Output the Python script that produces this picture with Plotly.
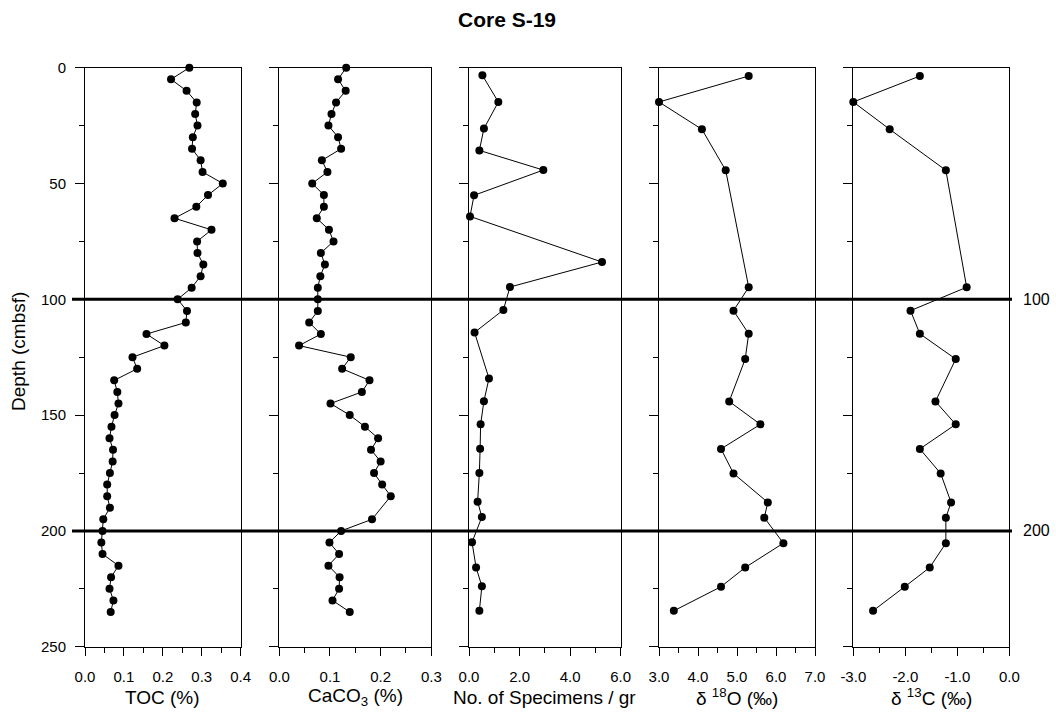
import plotly.graph_objects as go

# ---------------- data ----------------
toc_depth = [0, 5, 10, 15, 20, 25, 30, 35, 40, 45, 50, 55, 60, 65, 70, 75, 80, 85, 90, 95,
             100, 105, 110, 115, 120, 125, 130, 135, 140, 145, 150, 155, 160, 165, 170, 175,
             180, 185, 190, 195, 200, 205, 210, 215, 220, 225, 230, 235]
toc_val = [0.268, 0.221, 0.261, 0.287, 0.283, 0.289, 0.277, 0.275, 0.297, 0.302, 0.354, 0.316,
           0.286, 0.230, 0.325, 0.288, 0.289, 0.304, 0.297, 0.274, 0.238, 0.262, 0.259, 0.158,
           0.204, 0.122, 0.134, 0.075, 0.083, 0.086, 0.076, 0.068, 0.063, 0.072, 0.071, 0.064,
           0.057, 0.057, 0.064, 0.047, 0.045, 0.042, 0.045, 0.086, 0.067, 0.063, 0.073, 0.066]

caco3_depth = [0, 5, 10, 15, 20, 25, 30, 35, 40, 45, 50, 55, 60, 65, 70, 75, 80, 85, 90, 95,
               100, 105, 110, 115, 120, 125, 130, 135, 140, 145, 150, 155, 160, 165, 170, 175,
               180, 185, 195, 200, 205, 210, 215, 220, 225, 230, 235]
caco3_val = [0.132, 0.116, 0.131, 0.112, 0.103, 0.097, 0.116, 0.122, 0.084, 0.095, 0.065, 0.088,
             0.088, 0.074, 0.098, 0.107, 0.082, 0.090, 0.081, 0.076, 0.076, 0.076, 0.059, 0.082,
             0.039, 0.141, 0.124, 0.178, 0.163, 0.101, 0.139, 0.169, 0.195, 0.181, 0.200, 0.187,
             0.203, 0.220, 0.183, 0.122, 0.099, 0.118, 0.097, 0.119, 0.118, 0.105, 0.139]

spec_depth = [3.3, 14.8, 26.3, 35.7, 44.2, 55.1, 64.2, 83.9, 94.7, 104.6, 114.3, 134.2, 144,
              154, 164.5, 175, 187.4, 194, 204.9, 215.8, 223.9, 234.5]
spec_val = [0.53, 1.16, 0.59, 0.41, 2.94, 0.20, 0.04, 5.26, 1.62, 1.36, 0.22, 0.79, 0.59, 0.46,
            0.44, 0.41, 0.34, 0.51, 0.12, 0.28, 0.51, 0.41]

iso_depth = [3.6, 14.8, 26.6, 44.3, 94.8, 104.9, 114.9, 125.8, 144.1, 154, 164.6, 175.2, 187.7,
             194.3, 205.3, 215.8, 224.1, 234.5]
d18o_val = [5.30, 3.00, 4.10, 4.71, 5.30, 4.91, 5.30, 5.21, 4.80, 5.60, 4.59, 4.91, 5.79, 5.70,
            6.19, 5.21, 4.59, 3.38]
d13c_val = [-1.72, -3.00, -2.30, -1.22, -0.82, -1.90, -1.72, -1.03, -1.42, -1.03, -1.72, -1.32,
            -1.12, -1.22, -1.22, -1.53, -2.01, -2.62]

x_titles = ["TOC (%)", "CaCO<sub>3</sub> (%)", "No. of Specimens / gr",
            "δ <sup>18</sup>O (‰)", "δ <sup>13</sup>C (‰)"]
x_tickvals = [[0.0, 0.1, 0.2, 0.3, 0.4], [0.0, 0.1, 0.2, 0.3], [0, 2, 4, 6],
              [3, 4, 5, 6, 7], [-3, -2, -1, 0]]
x_ticktext = [["0.0", "0.1", "0.2", "0.3", "0.4"], ["0.0", "0.1", "0.2", "0.3"],
              ["0.0", "2.0", "4.0", "6.0"], ["3.0", "4.0", "5.0", "6.0", "7.0"],
              ["-3.0", "-2.0", "-1.0", "0.0"]]
x_ranges = [[0, 0.4], [0, 0.3], [0, 6], [3, 7], [-3, 0]]
x_minor = [0.05, 0.05, 1, 0.5, 0.5]
boundary_depths = [100, 200]
title_text = "Core S-19"
y_title = "Depth (cmbsf)"

# ---------------- layout geometry (pixels) ----------------
W, H = 1056, 712
panel_px = [(85, 240.7), (279.3, 431.3), (469, 620.7), (659, 815), (853.3, 1009.3)]
y_top_px, y_bot_px = 67.7, 646.7
ydom = [1 - y_bot_px / H, 1 - y_top_px / H]

FONT = "Arial, Liberation Sans, sans-serif"
fig = go.Figure()

series = [(toc_val, toc_depth), (caco3_val, caco3_depth), (spec_val, spec_depth),
          (d18o_val, iso_depth), (d13c_val, iso_depth)]

for i, (xv, yv) in enumerate(series):
    n = "" if i == 0 else str(i + 1)
    fig.add_trace(go.Scatter(
        x=xv, y=yv, mode="lines+markers", xaxis="x" + n, yaxis="y" + n,
        line=dict(color="black", width=1),
        marker=dict(color="black", size=8),
        cliponaxis=False, showlegend=False))
    x0, x1 = panel_px[i]
    fig.layout["xaxis" + n] = dict(
        domain=[x0 / W, x1 / W], anchor="y" + n, range=x_ranges[i],
        tickmode="array", tickvals=x_tickvals[i], ticktext=x_ticktext[i],
        ticks="outside", ticklen=8, tickwidth=1, tickcolor="black",
        ticklabelstandoff=8,
        minor=dict(ticks="outside", ticklen=5, dtick=x_minor[i],
                   tick0=x_ranges[i][0], tickcolor="black"),
        showline=True, linecolor="black", linewidth=1, mirror=True,
        showgrid=False, zeroline=False, automargin=False,
        tickfont=dict(family=FONT, size=15, color="black"))
    fig.layout["yaxis" + n] = dict(
        domain=ydom, anchor="x" + n, range=[250, 0],
        dtick=50, ticks="outside", ticklen=9, tickwidth=1, tickcolor="black",
        ticklabelstandoff=6,
        minor=dict(ticks="outside", ticklen=5, dtick=25, tickcolor="black"),
        showticklabels=(i == 0),
        showline=True, linecolor="black", linewidth=1, mirror=True,
        showgrid=False, zeroline=False, automargin=False,
        tickfont=dict(family=FONT, size=15, color="black"))
    fig.add_annotation(text=x_titles[i], x=(x0 + x1) / 2 / W, y=1 - 697 / H,
                       xref="paper", yref="paper", showarrow=False,
                       font=dict(family=FONT, size=19, color="black"),
                       xanchor="center", yanchor="middle")

for d in boundary_depths:
    fig.add_shape(type="line", xref="paper", yref="y", x0=72 / W, x1=1012 / W,
                  y0=d, y1=d, line=dict(color="black", width=3))
    fig.add_annotation(text=str(d), x=1036 / W, y=d, xref="paper", yref="y",
                       showarrow=False, xanchor="center", yanchor="middle",
                       font=dict(family=FONT, size=16, color="black"))

fig.add_annotation(text="<b>" + title_text + "</b>", x=507 / W, y=1 - 20 / H,
                   xref="paper", yref="paper", showarrow=False,
                   xanchor="center", yanchor="middle",
                   font=dict(family=FONT, size=21, color="black"))
fig.add_annotation(text=y_title, x=18 / W, y=1 - 352 / H, xref="paper", yref="paper",
                   showarrow=False, textangle=-90, xanchor="center", yanchor="middle",
                   font=dict(family=FONT, size=19, color="black"))

fig.update_layout(width=W, height=H, margin=dict(l=0, r=0, t=0, b=0, autoexpand=False),
                  paper_bgcolor="white", plot_bgcolor="white")
fig.write_html("out.html", config={"displayModeBar": False},
               post_script="document.body.style.margin='0';document.body.style.overflow='hidden';")
